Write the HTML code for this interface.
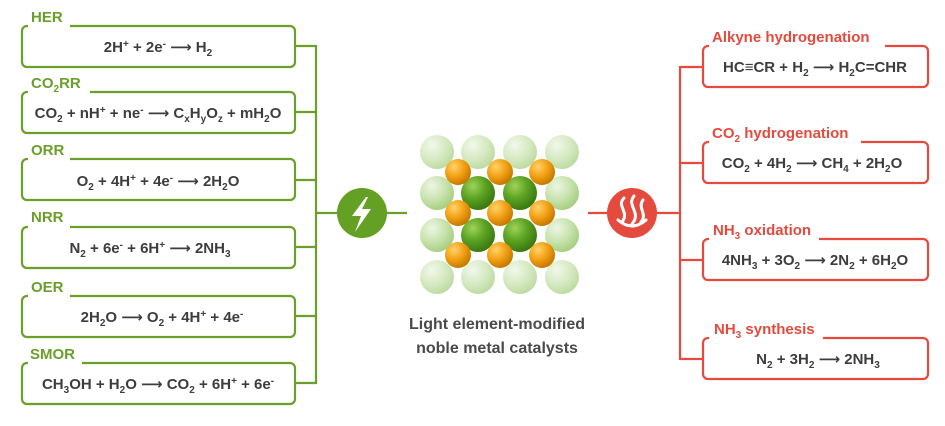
<!DOCTYPE html>
<html><head><meta charset="utf-8"><style>
html,body{margin:0;padding:0;background:#fff;}
svg{display:block;}
text{font-family:"Liberation Sans","DejaVu Sans",sans-serif;font-weight:bold;}
.f{font-size:15px;fill:#3d3d3d;}
.g{font-size:15px;fill:#6a9f2a;}
.r{font-size:15px;fill:#e44b3e;}
.s{font-size:10px;}
</style></head><body>
<svg width="945" height="426" viewBox="0 0 945 426" xmlns="http://www.w3.org/2000/svg">
<defs>
<radialGradient id="gs" cx="35%" cy="30%" r="70%"><stop offset="0" stop-color="#9fd35a"/><stop offset="0.5" stop-color="#5ea524"/><stop offset="1" stop-color="#3c7a12"/></radialGradient>
<radialGradient id="gf" cx="35%" cy="30%" r="70%"><stop offset="0" stop-color="#e8f3dc"/><stop offset="0.6" stop-color="#b4d990"/><stop offset="1" stop-color="#8cc05c"/></radialGradient>
<radialGradient id="os" cx="35%" cy="30%" r="70%"><stop offset="0" stop-color="#ffd36a"/><stop offset="0.55" stop-color="#f2a014"/><stop offset="1" stop-color="#c77a00"/></radialGradient>
</defs>
<g fill="none" stroke="#6a9f2a" stroke-width="2.2">
<rect x="22" y="26" width="273" height="41" rx="5"/>
<rect x="22" y="92" width="273" height="41" rx="5"/>
<rect x="22" y="159" width="273" height="41" rx="5"/>
<rect x="22" y="227" width="273" height="41" rx="5"/>
<rect x="22" y="296" width="273" height="41" rx="5"/>
<rect x="22" y="363" width="273" height="41" rx="5"/>
<path d="M295 46H316M295 112H316M295 180H316M295 247H316M295 316H316M295 383H316M316 45V384M316 213H407"/>
</g>
<g fill="#fff">
<rect x="28" y="20" width="42" height="10"/>
<rect x="28" y="86" width="62" height="10"/>
<rect x="28" y="153" width="42" height="10"/>
<rect x="28" y="221" width="42" height="10"/>
<rect x="28" y="290" width="42" height="10"/>
<rect x="28" y="357" width="54" height="10"/>
</g>
<text class="g" x="31" y="22">HER</text>
<text class="g" x="31" y="88">CO<tspan class="s" dy="4">2</tspan><tspan dy="-4">RR</tspan></text>
<text class="g" x="31" y="155">ORR</text>
<text class="g" x="31" y="222">NRR</text>
<text class="g" x="31" y="292">OER</text>
<text class="g" x="30" y="359">SMOR</text>
<text class="f" x="158" y="52" text-anchor="middle">2H<tspan class="s" dy="-5">+</tspan><tspan dy="5"> + 2e</tspan><tspan class="s" dy="-5">-</tspan><tspan dy="5"> ⟶ H</tspan><tspan class="s" dy="4">2</tspan></text>
<text class="f" x="158" y="118" text-anchor="middle">CO<tspan class="s" dy="4">2</tspan><tspan dy="-4"> + nH</tspan><tspan class="s" dy="-5">+</tspan><tspan dy="5"> + ne</tspan><tspan class="s" dy="-5">-</tspan><tspan dy="5"> ⟶ C</tspan><tspan class="s" dy="4">x</tspan><tspan dy="-4">H</tspan><tspan class="s" dy="4">y</tspan><tspan dy="-4">O</tspan><tspan class="s" dy="4">z</tspan><tspan dy="-4"> + mH</tspan><tspan class="s" dy="4">2</tspan><tspan dy="-4">O</tspan></text>
<text class="f" x="158" y="186" text-anchor="middle">O<tspan class="s" dy="4">2</tspan><tspan dy="-4"> + 4H</tspan><tspan class="s" dy="-5">+</tspan><tspan dy="5"> + 4e</tspan><tspan class="s" dy="-5">-</tspan><tspan dy="5"> ⟶ 2H</tspan><tspan class="s" dy="4">2</tspan><tspan dy="-4">O</tspan></text>
<text class="f" x="150" y="253" text-anchor="middle">N<tspan class="s" dy="4">2</tspan><tspan dy="-4"> + 6e</tspan><tspan class="s" dy="-5">-</tspan><tspan dy="5"> + 6H</tspan><tspan class="s" dy="-5">+</tspan><tspan dy="5"> ⟶ 2NH</tspan><tspan class="s" dy="4">3</tspan></text>
<text class="f" x="162" y="322" text-anchor="middle">2H<tspan class="s" dy="4">2</tspan><tspan dy="-4">O ⟶ O</tspan><tspan class="s" dy="4">2</tspan><tspan dy="-4"> + 4H</tspan><tspan class="s" dy="-5">+</tspan><tspan dy="5"> + 4e</tspan><tspan class="s" dy="-5">-</tspan></text>
<text class="f" x="158" y="389" text-anchor="middle">CH<tspan class="s" dy="4">3</tspan><tspan dy="-4">OH + H</tspan><tspan class="s" dy="4">2</tspan><tspan dy="-4">O ⟶ CO</tspan><tspan class="s" dy="4">2</tspan><tspan dy="-4"> + 6H</tspan><tspan class="s" dy="-5">+</tspan><tspan dy="5"> + 6e</tspan><tspan class="s" dy="-5">-</tspan></text>

<circle cx="362" cy="213" r="25" fill="#64a023"/>
<path d="M366 197 L352 216 L361 216 L355 232 L371 209 L362 209 L368 197 Z" fill="#fff"/>

<!-- lattice -->
<g>
<g opacity="0.55">
<circle cx="437" cy="152" r="17" fill="url(#gf)"/><circle cx="478" cy="152" r="17" fill="url(#gf)"/><circle cx="520" cy="152" r="17" fill="url(#gf)"/><circle cx="562" cy="152" r="17" fill="url(#gf)"/>
<circle cx="437" cy="277" r="17" fill="url(#gf)"/><circle cx="478" cy="277" r="17" fill="url(#gf)"/><circle cx="520" cy="277" r="17" fill="url(#gf)"/><circle cx="562" cy="277" r="17" fill="url(#gf)"/>
</g>
<g opacity="0.75">
<circle cx="437" cy="193" r="17" fill="url(#gf)"/><circle cx="562" cy="193" r="17" fill="url(#gf)"/>
<circle cx="437" cy="235" r="17" fill="url(#gf)"/><circle cx="562" cy="235" r="17" fill="url(#gf)"/>
</g>
<circle cx="478" cy="193" r="17" fill="url(#gs)"/><circle cx="520" cy="193" r="17" fill="url(#gs)"/>
<circle cx="478" cy="235" r="17" fill="url(#gs)"/><circle cx="520" cy="235" r="17" fill="url(#gs)"/>
<g fill="url(#os)">
<circle cx="458" cy="172" r="13"/><circle cx="500" cy="172" r="13"/><circle cx="542" cy="172" r="13"/>
<circle cx="458" cy="213" r="13"/><circle cx="500" cy="213" r="13"/><circle cx="542" cy="213" r="13"/>
<circle cx="458" cy="255" r="13"/><circle cx="500" cy="255" r="13"/><circle cx="542" cy="255" r="13"/>
</g>
</g>
<text x="497" y="329" text-anchor="middle" style="font-size:16px;fill:#4a4a4a">Light element-modified</text>
<text x="497" y="353" text-anchor="middle" style="font-size:16px;fill:#4a4a4a">noble metal catalysts</text>

<g fill="none" stroke="#e44b3e" stroke-width="2.2">
<path d="M588 213H680M680 66V360M680 67H703M680 163H703M680 260H703M680 359H703"/>
<rect x="703" y="46" width="225" height="41" rx="5"/>
<rect x="703" y="142" width="225" height="41" rx="5"/>
<rect x="703" y="239" width="225" height="41" rx="5"/>
<rect x="703" y="338" width="225" height="41" rx="5"/>
</g>
<circle cx="632" cy="213" r="25" fill="#e44b3e"/>
<g fill="none" stroke="#fff" stroke-width="3" stroke-linecap="round">
<path d="M624 198 C616 206 630 212 622 222"/>
<path d="M634 196 C626 206 642 212 632 224"/>
<path d="M643 200 C637 208 648 214 641 222"/>
<path d="M618 220 Q632 232 646 220"/>
</g>
<g fill="#fff">
<rect x="709" y="40" width="176" height="10"/>
<rect x="709" y="136" width="152" height="10"/>
<rect x="709" y="233" width="110" height="10"/>
<rect x="709" y="332" width="114" height="10"/>
</g>
<text class="r" x="712" y="42">Alkyne hydrogenation</text>
<text class="r" x="712" y="138">CO<tspan class="s" dy="4">2</tspan><tspan dy="-4"> hydrogenation</tspan></text>
<text class="r" x="713" y="235">NH<tspan class="s" dy="4">3</tspan><tspan dy="-4"> oxidation</tspan></text>
<text class="r" x="714" y="334">NH<tspan class="s" dy="4">3</tspan><tspan dy="-4"> synthesis</tspan></text>
<text class="f" x="815" y="72" text-anchor="middle">HC≡CR + H<tspan class="s" dy="4">2</tspan><tspan dy="-4"> ⟶ H</tspan><tspan class="s" dy="4">2</tspan><tspan dy="-4">C=CHR</tspan></text>
<text class="f" x="812" y="168" text-anchor="middle">CO<tspan class="s" dy="4">2</tspan><tspan dy="-4"> + 4H</tspan><tspan class="s" dy="4">2</tspan><tspan dy="-4"> ⟶ CH</tspan><tspan class="s" dy="4">4</tspan><tspan dy="-4"> + 2H</tspan><tspan class="s" dy="4">2</tspan><tspan dy="-4">O</tspan></text>
<text class="f" x="815" y="265" text-anchor="middle">4NH<tspan class="s" dy="4">3</tspan><tspan dy="-4"> + 3O</tspan><tspan class="s" dy="4">2</tspan><tspan dy="-4"> ⟶ 2N</tspan><tspan class="s" dy="4">2</tspan><tspan dy="-4"> + 6H</tspan><tspan class="s" dy="4">2</tspan><tspan dy="-4">O</tspan></text>
<text class="f" x="818" y="364" text-anchor="middle">N<tspan class="s" dy="4">2</tspan><tspan dy="-4"> + 3H</tspan><tspan class="s" dy="4">2</tspan><tspan dy="-4"> ⟶ 2NH</tspan><tspan class="s" dy="4">3</tspan></text>
</svg>
</body></html>
